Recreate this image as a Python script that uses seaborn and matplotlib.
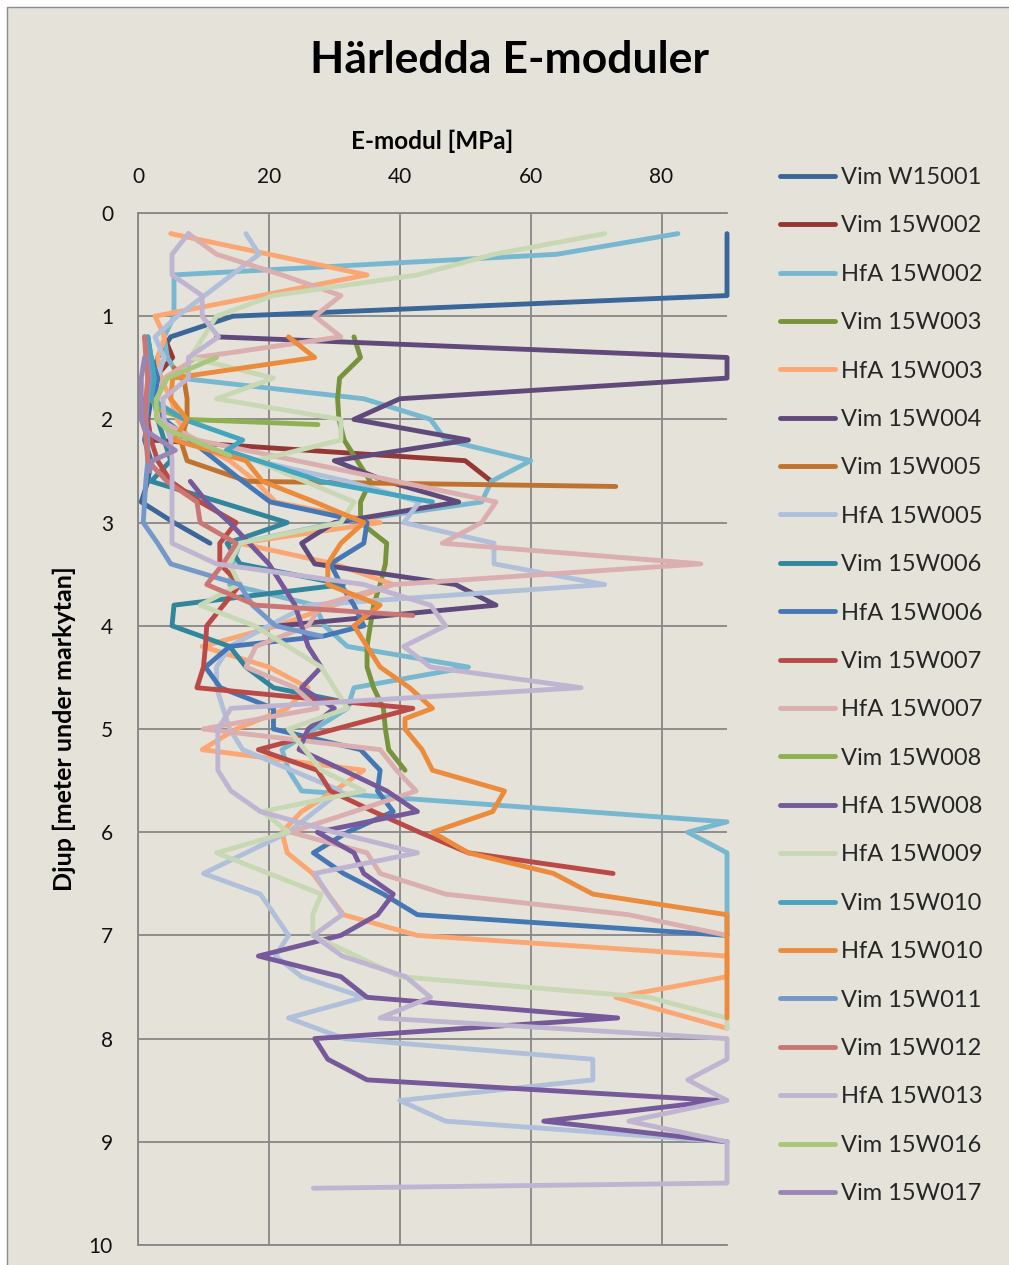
import numpy as np
import pandas as pd
import matplotlib
matplotlib.use("Agg")
import matplotlib.pyplot as plt
import seaborn as sns
from matplotlib.lines import Line2D
from matplotlib.patches import Rectangle

# ── Data (djup i meter, E-modul i MPa) ─────────────────────────
vim_w15001_d = [0.2, 0.4, 0.6, 0.8, 1.0, 1.2, 1.4, 1.6, 1.8, 2.0, 2.2, 2.4, 2.6, 2.8, 3.0, 3.2]
vim_w15001_e = [90, 90, 90, 90, 14.5, 5, 3, 2.5, 2, 1.5, 1, 2, 1.5, 0.5, 5.5, 11]

vim_15w002_d = [1.2, 1.4, 1.6, 1.8, 2.0, 2.2, 2.4, 2.6]
vim_15w002_e = [4, 5.3, 2.5, 1.5, 1, 2, 50, 54]

hfa_15w002_d = [0.2, 0.4, 0.6, 0.8, 1.0, 1.2, 1.4, 1.6, 1.8, 2.0, 2.2, 2.4, 2.6, 2.8, 3.0, 3.2, 3.4,
                3.6, 3.8, 4.0, 4.2, 4.4, 4.6, 4.8, 5.0, 5.2, 5.4, 5.6, 5.9, 6.0, 6.2, 6.4, 6.6, 6.8, 7.0]
hfa_15w002_e = [82.5, 64, 5.5, 5.5, 5.5, 4, 4.5, 6.4, 34.5, 44.7, 47, 60, 54, 52.5, 30.5, 15.5, 14.5,
                14, 27, 28.5, 32, 50.5, 33, 32, 27, 22, 23, 25, 90, 84, 90, 90, 90, 90, 90]

vim_15w003_d = [1.2, 1.4, 1.6, 1.8, 2.0, 2.2, 2.4, 2.6, 2.8, 3.0, 3.2, 3.4, 3.6, 3.8, 4.0, 4.2, 4.4,
                4.6, 4.8, 5.0, 5.2, 5.4]
vim_15w003_e = [33, 34, 30.8, 30.5, 30.7, 31.5, 33.5, 35.5, 34, 34, 38, 37.8, 37, 36, 35.5, 35, 35,
                36, 37.5, 37.8, 38.3, 40.8]

hfa_15w003_d = [0.2, 0.6, 1.0, 1.2, 1.4, 1.6, 1.8, 2.0, 2.2, 2.4, 2.6, 2.8, 3.0, 3.2, 3.4, 3.6, 3.8,
                4.0, 4.2, 4.4, 4.6, 4.8, 5.0, 5.2, 5.4, 5.6, 5.8, 6.0, 6.2, 6.4, 6.6, 6.8, 7.0, 7.2,
                7.4, 7.6, 7.9]
hfa_15w003_e = [5, 35, 2.6, 4.1, 3, 3.5, 5, 6, 8, 14, 18, 21, 37, 15.5, 30, 39, 30,
                21.3, 9.8, 20, 26, 22.8, 15, 9.8, 34.5, 30, 25, 22, 22.8, 26.7, 29, 31.4, 42.7, 90,
                90, 73, 90]

vim_15w004_d = [1.2, 1.4, 1.6, 1.8, 2.0, 2.2, 2.4, 2.6, 2.8, 3.0, 3.2, 3.4, 3.6, 3.8, 4.0]
vim_15w004_e = [12, 90, 90, 40, 33, 50.5, 30, 38, 49, 30, 25, 27, 48.5, 54.7, 21.5]

vim_15w005_d = [1.5, 1.6, 1.8, 2.0, 2.2, 2.4, 2.6, 2.65]
vim_15w005_e = [5.5, 7, 7.5, 7.5, 6.5, 7.5, 16.7, 73]

hfa_15w005_d = [0.2, 0.4, 1.0, 1.2, 1.4, 1.6, 1.8, 2.0, 2.2, 2.4, 2.6, 2.8, 3.0, 3.2, 3.4, 3.6, 3.8,
                4.0, 4.2, 4.4, 4.6, 4.8, 5.0, 5.2, 5.6, 6.0, 6.4, 6.6, 7.0, 7.2, 7.4, 7.6, 7.8, 8.0,
                8.2, 8.4, 8.6, 8.8, 9.0]
hfa_15w005_e = [16.5, 18.5, 6, 2.6, 4, 3, 2.5, 3, 6, 18, 32, 43, 40.6, 54.4, 54.4, 71.3, 26,
                20, 14, 12, 12, 13, 14, 16, 31, 23, 10, 18.7, 23, 21, 25, 34.5, 23, 31.5,
                69.5, 69.5, 40, 47, 90]

vim_15w006_d = [1.2, 1.4, 1.6, 1.8, 2.0, 2.2, 2.4, 2.6, 2.8, 3.0, 3.2, 3.4, 3.6, 3.8, 4.0, 4.2, 4.4,
                4.6, 4.75]
vim_15w006_e = [1.5, 2, 3, 2.5, 3, 4, 5, 2, 12.5, 22.8, 13.6, 15.6, 31.4, 5.5, 5.2, 14, 16.5,
                20.7, 32.5]

hfa_15w006_d = [1.4, 1.6, 1.8, 2.0, 2.2, 2.4, 2.6, 2.8, 3.0, 3.2, 3.4, 3.6, 3.8, 4.0, 4.1, 4.2, 4.4,
                4.6, 4.8, 5.0, 5.2, 5.4, 5.6, 5.8, 6.0, 6.2, 6.4, 6.6, 6.8, 7.0]
hfa_15w006_e = [2, 3, 2.5, 4, 8, 12, 16, 20.2, 35, 34.5, 29.4, 31, 33, 34.5, 28.3, 14, 10.3,
                12.6, 20.7, 20.7, 34, 37, 36.6, 39, 32, 26.8, 31.4, 37.5, 42.7, 90]

vim_15w007_d = [1.8, 2.0, 2.2, 2.4, 2.6, 2.8, 3.0, 3.2, 3.4, 3.6, 4.0, 4.2, 4.4, 4.6, 4.8, 5.2, 5.4,
                5.6, 5.8, 6.0, 6.2, 6.4]
vim_15w007_e = [1, 1.5, 2, 3, 5, 9.5, 15, 12.5, 12.5, 15.6, 10.5, 10.3, 10, 9, 42, 18.4, 27.4,
                29.4, 36, 43, 50.5, 72.6]

hfa_15w007_d = [0.2, 0.4, 0.6, 0.8, 1.0, 1.2, 1.4, 1.6, 1.8, 2.0, 2.2, 2.8, 3.0, 3.2, 3.4, 3.6, 3.8,
                4.0, 4.2, 4.4, 4.6, 4.8, 5.0, 5.2, 5.4, 5.6, 5.8, 6.0, 6.2, 6.4, 6.6, 6.8, 7.0]
hfa_15w007_e = [7.7, 12, 22, 31, 27, 31, 9, 4, 3, 3, 9, 54.7, 52.5, 46.5, 86, 39, 28,
                26, 18, 16.5, 24, 27.4, 10, 37, 39.5, 42.5, 33, 23.3, 35, 37, 47, 75, 90]

vim_15w008_d = [1.2, 1.4, 1.6, 1.8, 1.9, 2.0, 2.05]
vim_15w008_e = [1, 2, 1.5, 2, 3, 7.5, 27.5]

hfa_15w008_d = [2.6, 2.8, 3.0, 3.2, 3.4, 3.6, 3.8, 4.0, 4.2, 4.4, 4.6, 4.8, 5.0, 5.2, 5.4, 5.6, 5.8,
                6.0, 6.2, 6.4, 6.6, 6.8, 7.0, 7.2, 7.4, 7.6, 7.8, 8.0, 8.2, 8.4, 8.6, 8.8, 9.0]
hfa_15w008_e = [8, 10.5, 14, 17, 20, 22, 24, 25, 26, 28, 25, 30, 26, 24.6, 31.4, 38, 42.7,
                27.4, 33, 34.5, 39, 36.6, 31, 18.4, 31, 35, 73.3, 27, 29, 35, 89, 62, 90]

hfa_15w009_d = [0.2, 0.4, 0.6, 0.8, 1.0, 1.4, 1.6, 1.8, 2.0, 2.2, 2.4, 2.8, 3.0, 3.2, 3.4, 3.6, 3.8,
                4.0, 4.4, 4.8, 5.0, 5.4, 5.6, 5.8, 6.0, 6.2, 6.6, 6.8, 7.0, 7.4, 7.6, 7.8, 7.9]
hfa_15w009_e = [71.3, 54.4, 42.7, 20.7, 12, 8, 20.7, 12, 31, 31, 18, 33, 31, 15.5, 14, 15.5, 9.5,
                17.8, 28, 32, 23, 28, 34.5, 19, 23, 12, 28, 26.7, 26.7, 40, 78, 90, 90]

vim_15w010_d = [1.2, 1.4, 1.6, 1.8, 2.0, 2.2, 2.3, 2.6, 2.8]
vim_15w010_e = [1.5, 2, 2.5, 2, 7, 16, 13.5, 28, 45]

hfa_15w010_d = [1.2, 1.4, 1.6, 1.8, 2.0, 2.2, 2.4, 2.6, 2.8, 3.0, 3.2, 3.4, 3.6, 3.8, 4.0, 4.2, 4.4,
                4.6, 4.8, 4.9, 5.0, 5.2, 5.4, 5.6, 5.8, 6.0, 6.2, 6.4, 6.6, 6.8, 7.0, 7.2, 7.4, 7.6, 7.8]
hfa_15w010_e = [23, 27, 5.3, 5, 7.5, 5.5, 16.5, 19, 27, 34.5, 31, 29, 29, 37, 33, 35, 37,
                41.5, 45, 40.8, 40.8, 43.4, 45, 56, 54.2, 45, 50.5, 63.5, 69.5, 90, 90, 90, 90, 90, 90]

vim_15w011_d = [1.2, 1.4, 1.6, 1.8, 2.0, 2.2, 2.4, 2.6, 2.8, 3.0, 3.2, 3.4, 3.6, 3.8, 4.0, 4.1]
vim_15w011_e = [1, 1.5, 1.8, 1.5, 1.2, 1.5, 1.5, 1.2, 1, 0.8, 3, 5, 15.5, 17.5, 21, 28]

vim_15w012_d = [1.2, 1.4, 1.6, 1.8, 2.0, 2.2, 2.4, 2.6, 2.8, 3.0, 3.2, 3.4, 3.6, 3.8, 3.9]
vim_15w012_e = [1, 1.2, 1.5, 1.2, 1, 1.2, 1.5, 4.4, 9, 9.5, 15, 13, 10.5, 18, 42]

hfa_15w013_d = [0.2, 0.4, 0.6, 0.8, 1.0, 1.2, 1.4, 1.6, 1.8, 2.0, 2.2, 2.4, 2.6, 2.8, 3.0, 3.2, 3.4,
                3.6, 3.8, 4.0, 4.2, 4.4, 4.6, 4.8, 5.0, 5.2, 5.4, 5.6, 5.8, 6.0, 6.2, 6.4, 6.6, 6.8,
                7.0, 7.2, 7.4, 7.6, 7.8, 8.0, 8.2, 8.4, 8.6, 8.8, 9.0, 9.2, 9.4, 9.45]
hfa_15w013_e = [7.7, 5.2, 5.2, 9.8, 9.8, 12.3, 7.7, 7.7, 3.8, 4, 5, 5.2, 5.2, 5.2, 5.2, 5.2, 12,
                34.5, 44.7, 47, 40.6, 44.7, 67.7, 14.2, 12.2, 12.2, 12.2, 14.2, 18.7, 30, 42.7, 27, 29, 31.2,
                26.8, 31.2, 40.9, 44.7, 37, 90, 90, 84, 90, 75, 90, 90, 90, 26.8]

vim_15w016_d = [1.4, 1.6, 1.8, 2.0, 2.1, 2.35]
vim_15w016_e = [12, 4.5, 2.8, 2.8, 4.5, 14]

vim_15w017_d = [1.4, 1.6, 1.8, 2.0, 2.1, 2.3, 2.4, 2.5]
vim_15w017_e = [1, 0.5, 0.5, 0.5, 1, 5.7, 2.2, 1.8]

serier = [
    ("Vim W15001", vim_w15001_d, vim_w15001_e),
    ("Vim 15W002", vim_15w002_d, vim_15w002_e),
    ("HfA 15W002", hfa_15w002_d, hfa_15w002_e),
    ("Vim 15W003", vim_15w003_d, vim_15w003_e),
    ("HfA 15W003", hfa_15w003_d, hfa_15w003_e),
    ("Vim 15W004", vim_15w004_d, vim_15w004_e),
    ("Vim 15W005", vim_15w005_d, vim_15w005_e),
    ("HfA 15W005", hfa_15w005_d, hfa_15w005_e),
    ("Vim 15W006", vim_15w006_d, vim_15w006_e),
    ("HfA 15W006", hfa_15w006_d, hfa_15w006_e),
    ("Vim 15W007", vim_15w007_d, vim_15w007_e),
    ("HfA 15W007", hfa_15w007_d, hfa_15w007_e),
    ("Vim 15W008", vim_15w008_d, vim_15w008_e),
    ("HfA 15W008", hfa_15w008_d, hfa_15w008_e),
    ("HfA 15W009", hfa_15w009_d, hfa_15w009_e),
    ("Vim 15W010", vim_15w010_d, vim_15w010_e),
    ("HfA 15W010", hfa_15w010_d, hfa_15w010_e),
    ("Vim 15W011", vim_15w011_d, vim_15w011_e),
    ("Vim 15W012", vim_15w012_d, vim_15w012_e),
    ("HfA 15W013", hfa_15w013_d, hfa_15w013_e),
    ("Vim 15W016", vim_15w016_d, vim_15w016_e),
    ("Vim 15W017", vim_15w017_d, vim_15w017_e),
]

farger = ["#3A6699", "#953735", "#77B8D0", "#77933C", "#FAA774", "#5F4A7B", "#C0722F",
          "#B0C0DB", "#31859C", "#4677B5", "#B94A47", "#DBAEB0", "#8EB14F", "#76599A",
          "#C8D8B4", "#43A5C0", "#EC8B3C", "#7498CA", "#CA7674", "#BFB5D1", "#A8C77B",
          "#9A86B6"]

BG = "#E5E3D9"
GRID = "#878787"

# ── Long-form table ───────────────────────────────────────────
rows = []
for namn, d, e in serier:
    for di, ei in zip(d, e):
        rows.append({"Serie": namn, "Djup": di, "E": ei})
df = pd.DataFrame(rows)
namn_lista = [s[0] for s in serier]

sns.set_style("white")
plt.rcParams["font.family"] = ["Lato", "DejaVu Sans"]

W, H = 1009, 1265
fig = plt.figure(figsize=(W / 100, H / 100), dpi=100, facecolor="white")
fig.add_artist(Rectangle((7 / W, -0.01), 1.05, (H - 7) / H + 0.01, transform=fig.transFigure,
                         facecolor=BG, edgecolor="#8c8c8c", linewidth=1.0, zorder=-10))

ax = fig.add_axes([138 / W, 1 - 1245 / H, (727 - 138) / W, (1245 - 213) / H])
ax.set_facecolor(BG)

sns.lineplot(data=df, x="E", y="Djup", hue="Serie", hue_order=namn_lista, palette=farger,
             sort=False, estimator=None, errorbar=None, linewidth=3.5, legend=False, ax=ax)

for line in ax.lines:
    line.set_clip_on(False)
    line.set_solid_capstyle("round")
    line.set_solid_joinstyle("round")

ax.set_xlim(0, 90)
ax.set_ylim(10, 0)
ax.set_xticks([0, 20, 40, 60, 80])
ax.set_yticks(range(0, 11))
ax.xaxis.tick_top()
ax.tick_params(axis="x", length=0, pad=19, labelsize=15, labelcolor="#111111")
ax.tick_params(axis="y", length=0, pad=18, labelsize=15, labelcolor="#111111")
ax.grid(True, color=GRID, linewidth=1.3)
ax.set_axisbelow(True)
for side in ["left", "top", "bottom"]:
    ax.spines[side].set_color(GRID)
    ax.spines[side].set_linewidth(1.3)
ax.spines["right"].set_visible(False)
ax.set_xlabel("")
ax.set_ylabel("")

fig.text(509 / W, 1 - 60 / H, "Härledda E-moduler", ha="center", va="center",
         fontsize=32, fontweight="bold", color="black")
fig.text(432 / W, 1 - 141 / H, "E-modul [MPa]", ha="center", va="center",
         fontsize=17.5, fontweight="bold", color="black")
fig.text(64 / W, 1 - 729 / H, "Djup [meter under markytan]", ha="center", va="center",
         rotation=90, fontsize=18, fontweight="bold", color="black")

handles = [Line2D([0], [0], color=c, linewidth=3.5, solid_capstyle="round") for c in farger]
fig.legend(handles, namn_lista, loc="upper left", bbox_to_anchor=(780 / W, 1 - 167 / H),
           bbox_transform=fig.transFigure, frameon=False, borderpad=0, borderaxespad=0,
           handlelength=2.35, handletextpad=0.22, labelspacing=1.16, fontsize=17)

fig.savefig("out.png", dpi=100, facecolor=fig.get_facecolor())
